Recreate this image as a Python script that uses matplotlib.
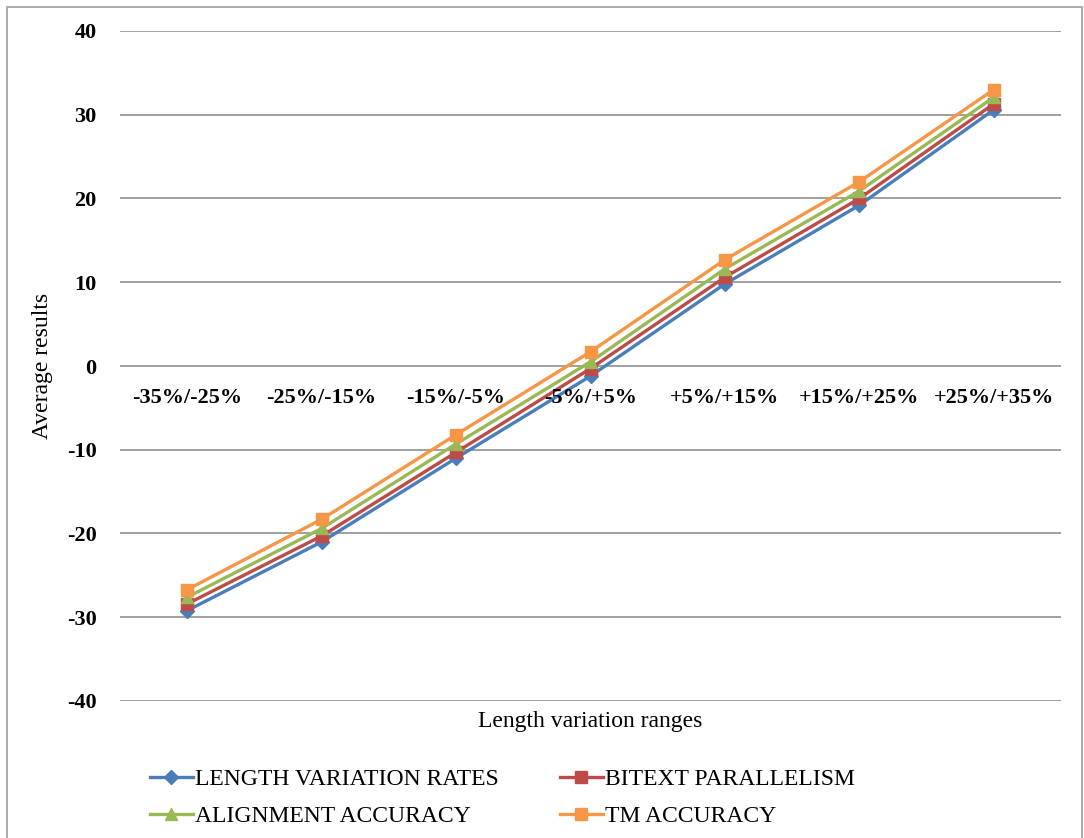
import matplotlib.pyplot as plt
from matplotlib.patches import Rectangle

plt.rcParams['font.family'] = ['Liberation Serif', 'DejaVu Serif']

ranges = ["-35%/-25%", "-25%/-15%", "-15%/-5%", "-5%/+5%",
          "+5%/+15%", "+15%/+25%", "+25%/+35%"]
length_rates = [-29.2, -21.0, -11.0, -1.2, 9.8, 19.2, 30.6]
bitext_par = [-28.4, -20.3, -10.3, -0.3, 10.6, 20.0, 31.3]
align_acc = [-27.6, -19.4, -9.3, 0.5, 11.6, 20.9, 32.1]
tm_acc = [-26.7, -18.3, -8.2, 1.7, 12.7, 22.0, 33.0]
yticks = [-40, -30, -20, -10, 0, 10, 20, 30, 40]

W, H = 1084, 838
fig = plt.figure(figsize=(W / 100, H / 100), dpi=100)
ax = fig.add_axes([120 / W, 1 - 701 / H, 941 / W, 670 / H])

x = list(range(len(ranges)))
l1, = ax.plot(x, length_rates, color='#4A7EBB', lw=2.4, marker='D', ms=7, label='LENGTH VARIATION RATES')
l2, = ax.plot(x, bitext_par, color='#BE4B48', lw=2.4, marker='s', ms=8, label='BITEXT PARALLELISM')
l3, = ax.plot(x, align_acc, color='#98B954', lw=2.4, marker='^', ms=9, label='ALIGNMENT ACCURACY')
l4, = ax.plot(x, tm_acc, color='#F79646', lw=2.4, marker='s', ms=9, label='TM ACCURACY')

ax.set_xlim(-0.5, len(ranges) - 0.5)
ax.set_ylim(-40, 40)
ax.set_yticks(yticks)
ax.set_yticklabels([str(v) for v in yticks], fontsize=16, fontweight='bold')
ax.tick_params(axis='y', length=0, pad=17)
ax.set_xticks([])
ax.yaxis.grid(True, color='#868686', lw=1.1)
ax.set_axisbelow(True)
for s in ax.spines.values():
    s.set_visible(False)

# category labels sit just under the zero line
for i, lab in enumerate(ranges):
    ax.annotate(lab, (i, 0), xytext=(0, -23), textcoords='offset points',
                ha='center', va='center', fontsize=16, fontweight='bold')

fig.text(43 / W, 1 - 366 / H, 'Average results', rotation=90,
         ha='center', va='center', fontsize=17)
fig.text(590 / W, 1 - 721 / H, 'Length variation ranges',
         ha='center', va='center', fontsize=17)

fig.legend(handles=[l1, l3, l2, l4], ncol=2, loc='center left',
           bbox_to_anchor=(150 / W, 1 - 798 / H), frameon=False,
           fontsize=17, handlelength=1.8, handletextpad=0.1,
           columnspacing=2.6, labelspacing=0.65, borderpad=0, borderaxespad=0)

fig.patches.append(Rectangle((7 / W, -0.01), 1075 / W, 1 - 7 / H + 0.01,
                             transform=fig.transFigure, fill=False,
                             edgecolor='#a6a6a6', lw=1.3))

fig.savefig('out.png', dpi=100)
